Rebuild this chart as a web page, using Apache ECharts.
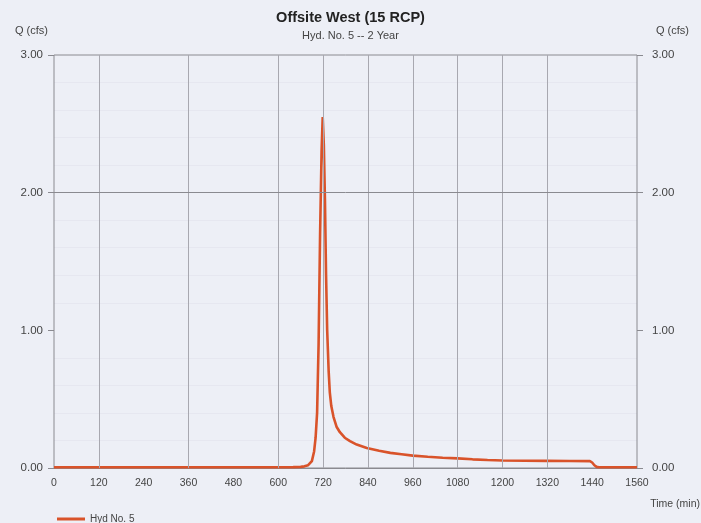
<!DOCTYPE html>
<html>
<head>
<meta charset="utf-8">
<script src="https://cdn.jsdelivr.net/npm/echarts@6/dist/echarts.min.js"></script>
<style>
html,body{margin:0;padding:0;background:#edeff6;}
#chart{width:701px;height:523px;}
</style>
</head>
<body>
<div id="chart"></div>
<script>
var titleText = "Offsite West (15 RCP)";
var subtitleText = "Hyd. No. 5 -- 2 Year";
var seriesName = "Hyd No. 5";
var yAxisName = "Q (cfs)";
var xAxisName = "Time (min)";
var xTickLabels = [0,120,240,360,480,600,720,840,960,1080,1200,1320,1440,1560];
var yTickLabels = ["0.00","1.00","2.00","3.00"];
var gridTimes = [120,360,600,720,840,960,1080,1200,1320];
var gridFlows = [2];

var times = [0,120,240,360,480,600,640,660,670,680,690,696,700,704,708,712,716,719,722,725,728,731,735,738,742,748,756,765,778,792,810,837,870,900,930,960,1000,1040,1080,1120,1160,1200,1260,1320,1380,1434,1440,1446,1452,1458,1500,1560];
var flows = [0.005,0.005,0.005,0.005,0.005,0.005,0.006,0.008,0.012,0.02,0.05,0.12,0.22,0.4,0.9,1.7,2.3,2.55,2.35,1.95,1.4,1.0,0.7,0.55,0.45,0.37,0.3,0.26,0.22,0.195,0.17,0.145,0.125,0.11,0.1,0.09,0.082,0.075,0.07,0.063,0.058,0.055,0.053,0.052,0.051,0.05,0.04,0.02,0.008,0.005,0.005,0.005];

var chart = echarts.init(document.getElementById('chart'), null, {renderer:'canvas'});
var font = 'Liberation Sans, Arial, sans-serif';
function yAxisCfg(pos, margin, minor){
  return {
    type:'value', min:0, max:3, interval:1, position:pos,
    axisLine:{show:false},
    axisTick:{show:true, length:6, lineStyle:{color:'#8a8a90'}},
    axisLabel:{color:'#444', fontSize:11.5, fontFamily:font, margin:margin,
      formatter:function(v){ return yTickLabels[Math.round(v)]; }},
    splitLine:{show:false},
    minorTick:{show:false, splitNumber:5},
    minorSplitLine:{show:minor, lineStyle:{color:'rgba(120,120,150,0.06)', width:1}}
  };
}
chart.setOption({
  backgroundColor:'#edeff6',
  animation:false,
  grid:{left:54, right:64, top:55, bottom:55, show:true, borderColor:'#8a8a90', borderWidth:1, backgroundColor:'transparent'},
  graphic:[
    {type:'text', left:'center', top:10, style:{text:titleText, font:'bold 14.5px '+font, fill:'#222'}},
    {type:'text', left:'center', top:30, style:{text:subtitleText, font:'11px '+font, fill:'#444'}},
    {type:'text', left:15, top:25, style:{text:yAxisName, font:'11px '+font, fill:'#444'}},
    {type:'text', right:12, top:25, style:{text:yAxisName, font:'11px '+font, fill:'#444'}},
    {type:'text', right:1, top:499, style:{text:xAxisName, font:'10.5px '+font, fill:'#444'}}
  ],
  legend:{left:52, top:509, icon:'rect', itemWidth:28, itemHeight:3, itemGap:8,
    textStyle:{color:'#444', fontSize:10, fontFamily:font}, data:[seriesName]},
  xAxis:{type:'value', min:0, max:1560, interval:120,
    axisLine:{show:true, lineStyle:{color:'#8a8a90'}},
    axisTick:{show:false},
    axisLabel:{color:'#444', fontSize:10.5, fontFamily:font, margin:10,
      formatter:function(v){ return xTickLabels.indexOf(v) >= 0 ? String(v) : ''; }},
    splitLine:{show:false}},
  yAxis:[ yAxisCfg('left', 11, true), yAxisCfg('right', 15, false) ],
  series:[{
    name:seriesName, type:'line', yAxisIndex:0, showSymbol:false, symbol:'none',
    lineStyle:{color:'#d9532a', width:2.6}, itemStyle:{color:'#d9532a'},
    data:times.map(function(t,i){ return [t, flows[i]]; }),
    z:3,
    markLine:{silent:true, symbol:'none', label:{show:false}, animation:false,
      lineStyle:{color:'#a8a8b0', width:1, type:'solid'},
      data:gridTimes.map(function(t){ return {xAxis:t}; }).concat(gridFlows.map(function(v){ return {yAxis:v, lineStyle:{color:'#8a8a90'}}; }))}
  }]
});
</script>
</body>
</html>
